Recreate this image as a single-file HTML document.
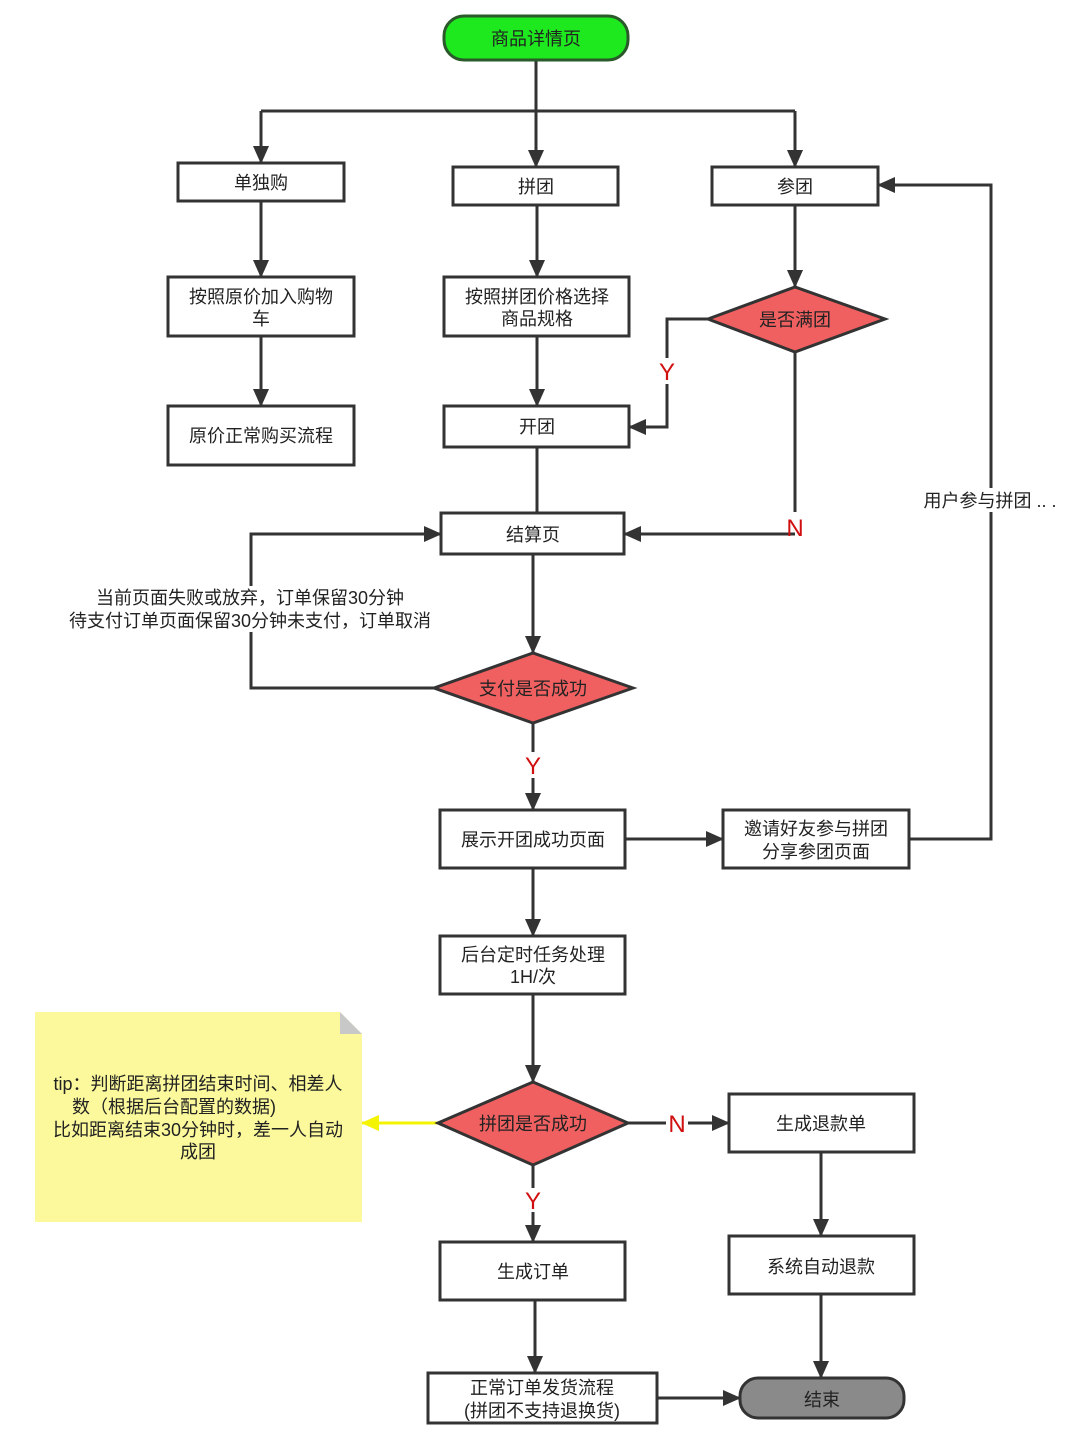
<!DOCTYPE html>
<html><head><meta charset="utf-8"><style>
html,body{margin:0;padding:0;background:#fff;}
svg text{font-family:"Liberation Sans","Noto Sans CJK SC",sans-serif;font-size:18px;fill:#222;}
.r{fill:#d01010;font-size:24px;}
</style></head><body>
<svg width="1080" height="1439" viewBox="0 0 1080 1439" xmlns="http://www.w3.org/2000/svg">
<defs>
<marker id="a2" markerWidth="18" markerHeight="16" refX="17" refY="8" orient="auto" markerUnits="userSpaceOnUse"><path d="M0,0 L18,8 L0,16 z" fill="#333"/></marker>
<marker id="y" markerWidth="18" markerHeight="16" refX="17" refY="8" orient="auto" markerUnits="userSpaceOnUse"><path d="M0,0 L18,8 L0,16 z" fill="#f4f400"/></marker></defs>
<g fill="none" stroke="#333" stroke-width="3">
<path d="M536,60 V111"/>
<path d="M261,111 H795"/>
<path d="M261,111 V163" marker-end="url(#a2)"/>
<path d="M536,111 V167" marker-end="url(#a2)"/>
<path d="M795,111 V167" marker-end="url(#a2)"/>
<path d="M261,201 V277" marker-end="url(#a2)"/>
<path d="M261,336 V406" marker-end="url(#a2)"/>
<path d="M537,205 V277" marker-end="url(#a2)"/>
<path d="M537,336 V406" marker-end="url(#a2)"/>
<path d="M795,205 V287" marker-end="url(#a2)"/>
<path d="M708,319 H667 V358 M667,384 V427 H629" marker-end="url(#a2)"/>
<path d="M795,352 V512 M795,534 H624" marker-end="url(#a2)"/>
<path d="M537,447 V513"/>
<path d="M533,554 V653" marker-end="url(#a2)"/>
<path d="M434,688 H251 V534 H441" marker-end="url(#a2)"/>
<path d="M533,723 V752 M533,778 V810" marker-end="url(#a2)"/>
<path d="M625,839 H723" marker-end="url(#a2)"/>
<path d="M909,839 H991 V185 H878" marker-end="url(#a2)"/>
<path d="M533,868 V936" marker-end="url(#a2)"/>
<path d="M533,994 V1082" marker-end="url(#a2)"/>
<path d="M628,1123 H666 M688,1123 H729" marker-end="url(#a2)"/>
<path d="M533,1165 V1188 M533,1212 V1242" marker-end="url(#a2)"/>
<path d="M821,1152 V1236" marker-end="url(#a2)"/>
<path d="M821,1294 V1378" marker-end="url(#a2)"/>
<path d="M535,1300 V1373" marker-end="url(#a2)"/>
<path d="M657,1398 H740" marker-end="url(#a2)"/>
</g>
<path d="M438,1123 H362" stroke="#f4f400" stroke-width="3" fill="none" marker-end="url(#y)"/>
<g stroke="#333" stroke-width="3" fill="#fff">
<rect x="444" y="16" width="184" height="44" rx="20" fill="#1ee81e" stroke="#2a5a2a"/>
<rect x="178" y="163" width="166" height="38"/>
<rect x="453" y="167" width="165" height="38"/>
<rect x="712" y="167" width="166" height="38"/>
<rect x="168" y="277" width="186" height="59"/>
<rect x="444" y="277" width="185" height="59"/>
<rect x="168" y="406" width="186" height="59"/>
<rect x="444" y="406" width="185" height="41"/>
<polygon points="708,319 795,287 885,319 795,352" fill="#f06060"/>
<rect x="441" y="513" width="183" height="41"/>
<polygon points="434,688 533,653 633,688 533,723" fill="#f06060"/>
<rect x="440" y="810" width="185" height="58"/>
<rect x="723" y="810" width="186" height="58"/>
<rect x="440" y="936" width="185" height="58"/>
<polygon points="438,1123 533,1082 628,1123 533,1165" fill="#f06060"/>
<rect x="729" y="1094" width="185" height="58"/>
<rect x="729" y="1236" width="185" height="58"/>
<rect x="440" y="1242" width="185" height="58"/>
<rect x="428" y="1373" width="229" height="50"/>
<rect x="740" y="1378" width="164" height="40" rx="18" fill="#8a8a8a"/>
</g>
<path d="M35,1012 H340 L362,1034 V1222 H35 Z" fill="#fbf99c"/>
<path d="M340,1012 L362,1034 H340 Z" fill="#c8c8c8"/>
<rect x="925" y="488" width="132" height="24" fill="#fff"/>
<rect x="66" y="586" width="370" height="46" fill="#fff"/>
<g text-anchor="middle">
<text x="536" y="45">商品详情页</text>
<text x="261" y="189">单独购</text>
<text x="536" y="193">拼团</text>
<text x="795" y="193">参团</text>
<text x="261" y="303">按照原价加入购物</text><text x="261" y="325">车</text>
<text x="537" y="303">按照拼团价格选择</text><text x="537" y="325">商品规格</text>
<text x="261" y="442">原价正常购买流程</text>
<text x="537" y="433">开团</text>
<text x="795" y="326">是否满团</text>
<text x="533" y="541">结算页</text>
<text x="250" y="604">当前页面失败或放弃，订单保留30分钟</text>
<text x="250" y="627">待支付订单页面保留30分钟未支付，订单取消</text>
<text x="533" y="695">支付是否成功</text>
<text x="533" y="846">展示开团成功页面</text>
<text x="816" y="835">邀请好友参与拼团</text><text x="816" y="858">分享参团页面</text>
<text x="533" y="961">后台定时任务处理</text><text x="533" y="983">1H/次</text>
<text x="533" y="1130">拼团是否成功</text>
<text x="821" y="1130">生成退款单</text>
<text x="821" y="1273">系统自动退款</text>
<text x="533" y="1278">生成订单</text>
<text x="542" y="1394">正常订单发货流程</text><text x="542" y="1417">(拼团不支持退换货)</text>
<text x="822" y="1406">结束</text>
<text x="198" y="1090">tip：判断距离拼团结束时间、相差人</text>
<text x="174" y="1113">数（根据后台配置的数据)</text>
<text x="198" y="1136">比如距离结束30分钟时，差一人自动</text>
<text x="198" y="1158">成团</text>
<text x="990" y="507">用户参与拼团 .. .</text>
<text class="r" x="667" y="380">Y</text>
<text class="r" x="795" y="536">N</text>
<text class="r" x="533" y="774">Y</text>
<text class="r" x="677" y="1132">N</text>
<text class="r" x="533" y="1209">Y</text>
</g>
</svg>
</body></html>
